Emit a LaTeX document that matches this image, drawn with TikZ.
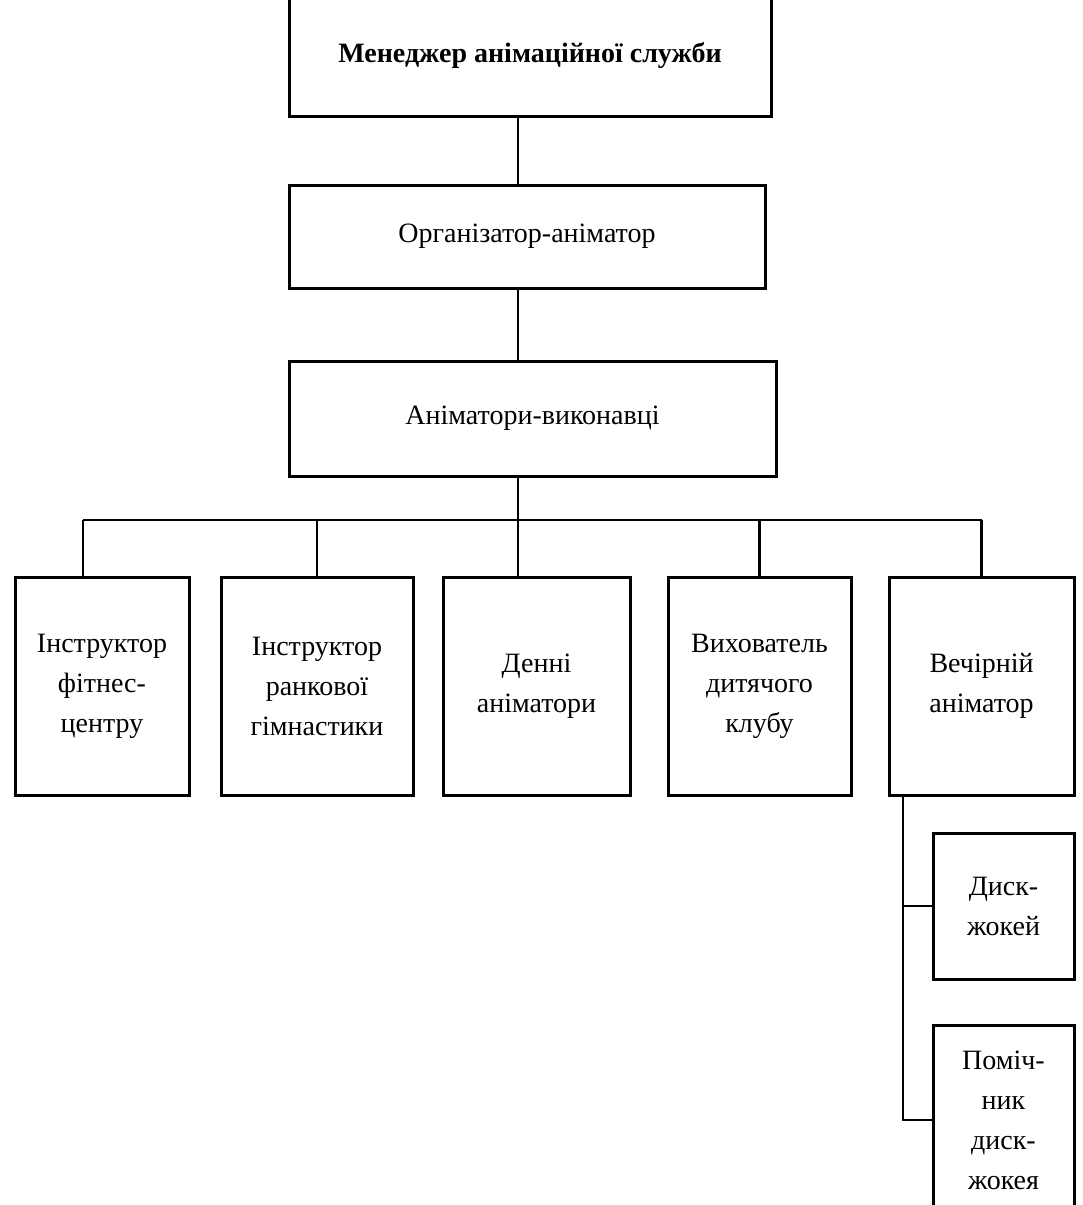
\documentclass[tikz,border=0pt]{standalone}
\usepackage{fontspec}
\setmainfont{Liberation Serif}
\begin{document}
\begin{tikzpicture}[
        x={(1pt,0pt)},
        y={(0pt,-1pt)},
        unitbox/.style={draw, line width=3pt, align=center, inner sep=0pt,
            font=\fontsize{28}{40}\selectfont},
        staffbox/.style={unitbox, minimum width=#1, minimum height=218pt},
        link/.style={line width=2.4pt}]

        \useasboundingbox (0,0) rectangle (1083,1205);

        % Management chain
        \node[unitbox, minimum width=482pt, minimum height=122pt,
            font=\fontsize{28}{40}\selectfont\bfseries] (manager) at (530,55) {Менеджер анімаційної служби};
        \node[unitbox, minimum width=476pt, minimum height=103pt] (organizer) at (527,236.5) {Організатор-аніматор};
        \node[unitbox, minimum width=487pt, minimum height=115pt] (performers) at (532.5,418.5) {Аніматори-виконавці};
        \coordinate (trunk) at (518,520);
        \coordinate (busL) at (83,520);
        \coordinate (busR) at (981.5,520);
        \draw[link] (manager.south -| trunk) -- (organizer.north -| trunk);
        \draw[link] (organizer.south -| trunk) -- (performers.north -| trunk);
        \draw[link] (performers.south -| trunk) -- (trunk);
        \draw[link] (busL) -- (busR);

        % Performers
        \node[staffbox=174pt] (fitness) at (102,686) {Інструктор\\фітнес-\\центру};
        \node[staffbox=192pt] (gym) at (317,686) {Інструктор\\ранкової\\гімнастики};
        \node[staffbox=187pt] (day) at (536.5,686) {Денні\\аніматори};
        \node[staffbox=183pt] (club) at (759.5,686) {Вихователь\\дитячого\\клубу};
        \node[staffbox=185pt] (evening) at (981.5,686) {Вечірній\\аніматор};
        \draw[link] (busL) -- (busL |- fitness.north);
        \draw[link] (gym.north |- trunk) -- (gym.north);
        \draw[link] (trunk) -- (trunk |- day.north);
        \draw[link] (club.north |- trunk) -- (club.north);
        \draw[link] (busR) -- (evening.north);

        % Evening team
        \coordinate (side) at (903,795);
        \node[unitbox, minimum width=141pt, minimum height=146pt] (dj) at (1003.5,906) {Диск-\\жокей};
        \node[unitbox, minimum width=141pt, minimum height=190pt] (djhelp) at (1003.5,1120) {Поміч-\\ник\\диск-\\жокея};
        \draw[link] (evening.south -| side) |- (djhelp.west);
        \draw[link] (dj.west -| side) -- (dj.west);
    \end{tikzpicture}
\end{document}
